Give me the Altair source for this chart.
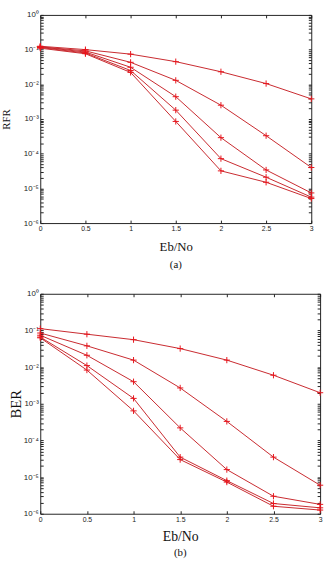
import altair as alt
import pandas as pd

ebno = [0, 0.5, 1, 1.5, 2, 2.5, 3]
series = ["c1", "c2", "c3", "c4", "c5"]

# panel (a)
a_c1 = [0.125, 0.10, 0.074, 0.045, 0.023, 0.0105, 0.0038]
a_c2 = [0.12, 0.092, 0.043, 0.013, 0.0025, 3.3e-4, 4.0e-5]
a_c3 = [0.12, 0.085, 0.031, 0.0044, 2.9e-4, 3.4e-5, 7.4e-6]
a_c4 = [0.115, 0.080, 0.025, 0.0018, 7.2e-5, 2.1e-5, 5.6e-6]
a_c5 = [0.11, 0.076, 0.022, 8.5e-4, 3.2e-5, 1.5e-5, 5.1e-6]

# panel (b)
b_c1 = [0.112, 0.079, 0.056, 0.032, 0.0155, 0.0060, 0.0020]
b_c2 = [0.085, 0.038, 0.0155, 0.0027, 3.3e-4, 3.5e-5, 6.0e-6]
b_c3 = [0.074, 0.021, 0.0040, 2.2e-4, 1.6e-5, 3.0e-6, 1.8e-6]
b_c4 = [0.066, 0.011, 0.0014, 3.5e-5, 8.0e-6, 1.9e-6, 1.45e-6]
b_c5 = [0.063, 0.0083, 6.4e-4, 3.0e-5, 7.3e-6, 1.6e-6, 1.26e-6]

y_ticks = [k * 10.0 ** d for d in range(-6, 0) for k in range(1, 10)] + [1.0]


def make_df(cols):
    rows = []
    for name, vals in zip(series, cols):
        for x, v in zip(ebno, vals):
            rows.append({"ebno": x, "val": v, "series": name})
    return pd.DataFrame(rows)


df_a = make_df([a_c1, a_c2, a_c3, a_c4, a_c5])
df_b = make_df([b_c1, b_c2, b_c3, b_c4, b_c5])

LINE = "#c8282d"
MARK = "#e8141c"
PLUS = "M-1,0L1,0M0,-1L0,1"
SERIF = "Liberation Serif"
SANS = "Liberation Sans"

label_expr = (
    "abs(log(datum.value)/LN10 - round(log(datum.value)/LN10)) < 0.001 ? "
    "'10' + ['⁰','⁻¹','⁻²','⁻³','⁻⁴','⁻⁵','⁻⁶'][-round(log(datum.value)/LN10)] : ''"
)


def panel(df, ytitle, ytsize, xtsize, tag, w, h, ytpad, xtpad, tagoff):
    xs = alt.Scale(domain=[0, 3], nice=False, zero=False)
    ys = alt.Scale(type="log", domain=[1e-6, 1], nice=False)
    common = dict(domain=False, tickColor="#222", tickSize=3, offset=-3,
                  labelFlush=False, labelOverlap=False, grid=False)
    lines = alt.Chart(df).mark_line(color=LINE, strokeWidth=1).encode(
        x=alt.X("ebno:Q", scale=xs, axis=alt.Axis(
            orient="bottom", values=ebno, format="~g", title="Eb/No",
            titleFont=SERIF, titleFontSize=xtsize, titleFontWeight="normal",
            titleColor="#111", titlePadding=xtpad, labelFont=SANS,
            labelFontSize=7, labelColor="#222", labelPadding=2, **common)),
        y=alt.Y("val:Q", scale=ys, axis=alt.Axis(
            orient="left", values=y_ticks, labelExpr=label_expr, title=ytitle,
            titleFont=SERIF, titleFontSize=ytsize, titleFontWeight="normal",
            titleColor="#111", titlePadding=ytpad, labelFont=SANS,
            labelFontSize=8, labelColor="#222", labelPadding=2, **common)),
        detail="series:N",
    )
    pts = alt.Chart(df).mark_point(shape=PLUS, filled=False, size=40,
                                   color=MARK, strokeWidth=1, opacity=1).encode(
        x=alt.X("ebno:Q", scale=xs, axis=alt.Axis(
            orient="top", values=ebno, labels=False, title=None, **common)),
        y=alt.Y("val:Q", scale=ys, axis=alt.Axis(
            orient="right", values=y_ticks, labels=False, title=None, **common)),
        detail="series:N",
    )
    return alt.layer(lines, pts).resolve_axis(
        x="independent", y="independent"
    ).properties(
        width=w, height=h,
        title=alt.TitleParams(tag, orient="bottom", font=SERIF, fontSize=11,
                              fontWeight="normal", color="#111", offset=tagoff),
    )


pa = panel(df_a, "RFR", 11, 13, "(a)", 276, 212, 12, 9, 6)
pb = panel(df_b, "BER", 15, 14, "(b)", 285, 224, 0, 7, 4)

chart = alt.vconcat(pa, pb, spacing=18).properties(
    padding={"left": 0, "top": 5, "right": 0, "bottom": 0},
    background="white",
).configure_view(stroke="#222", strokeWidth=1)

chart.save("out.html", embed_options={"renderer": "svg", "actions": False})
